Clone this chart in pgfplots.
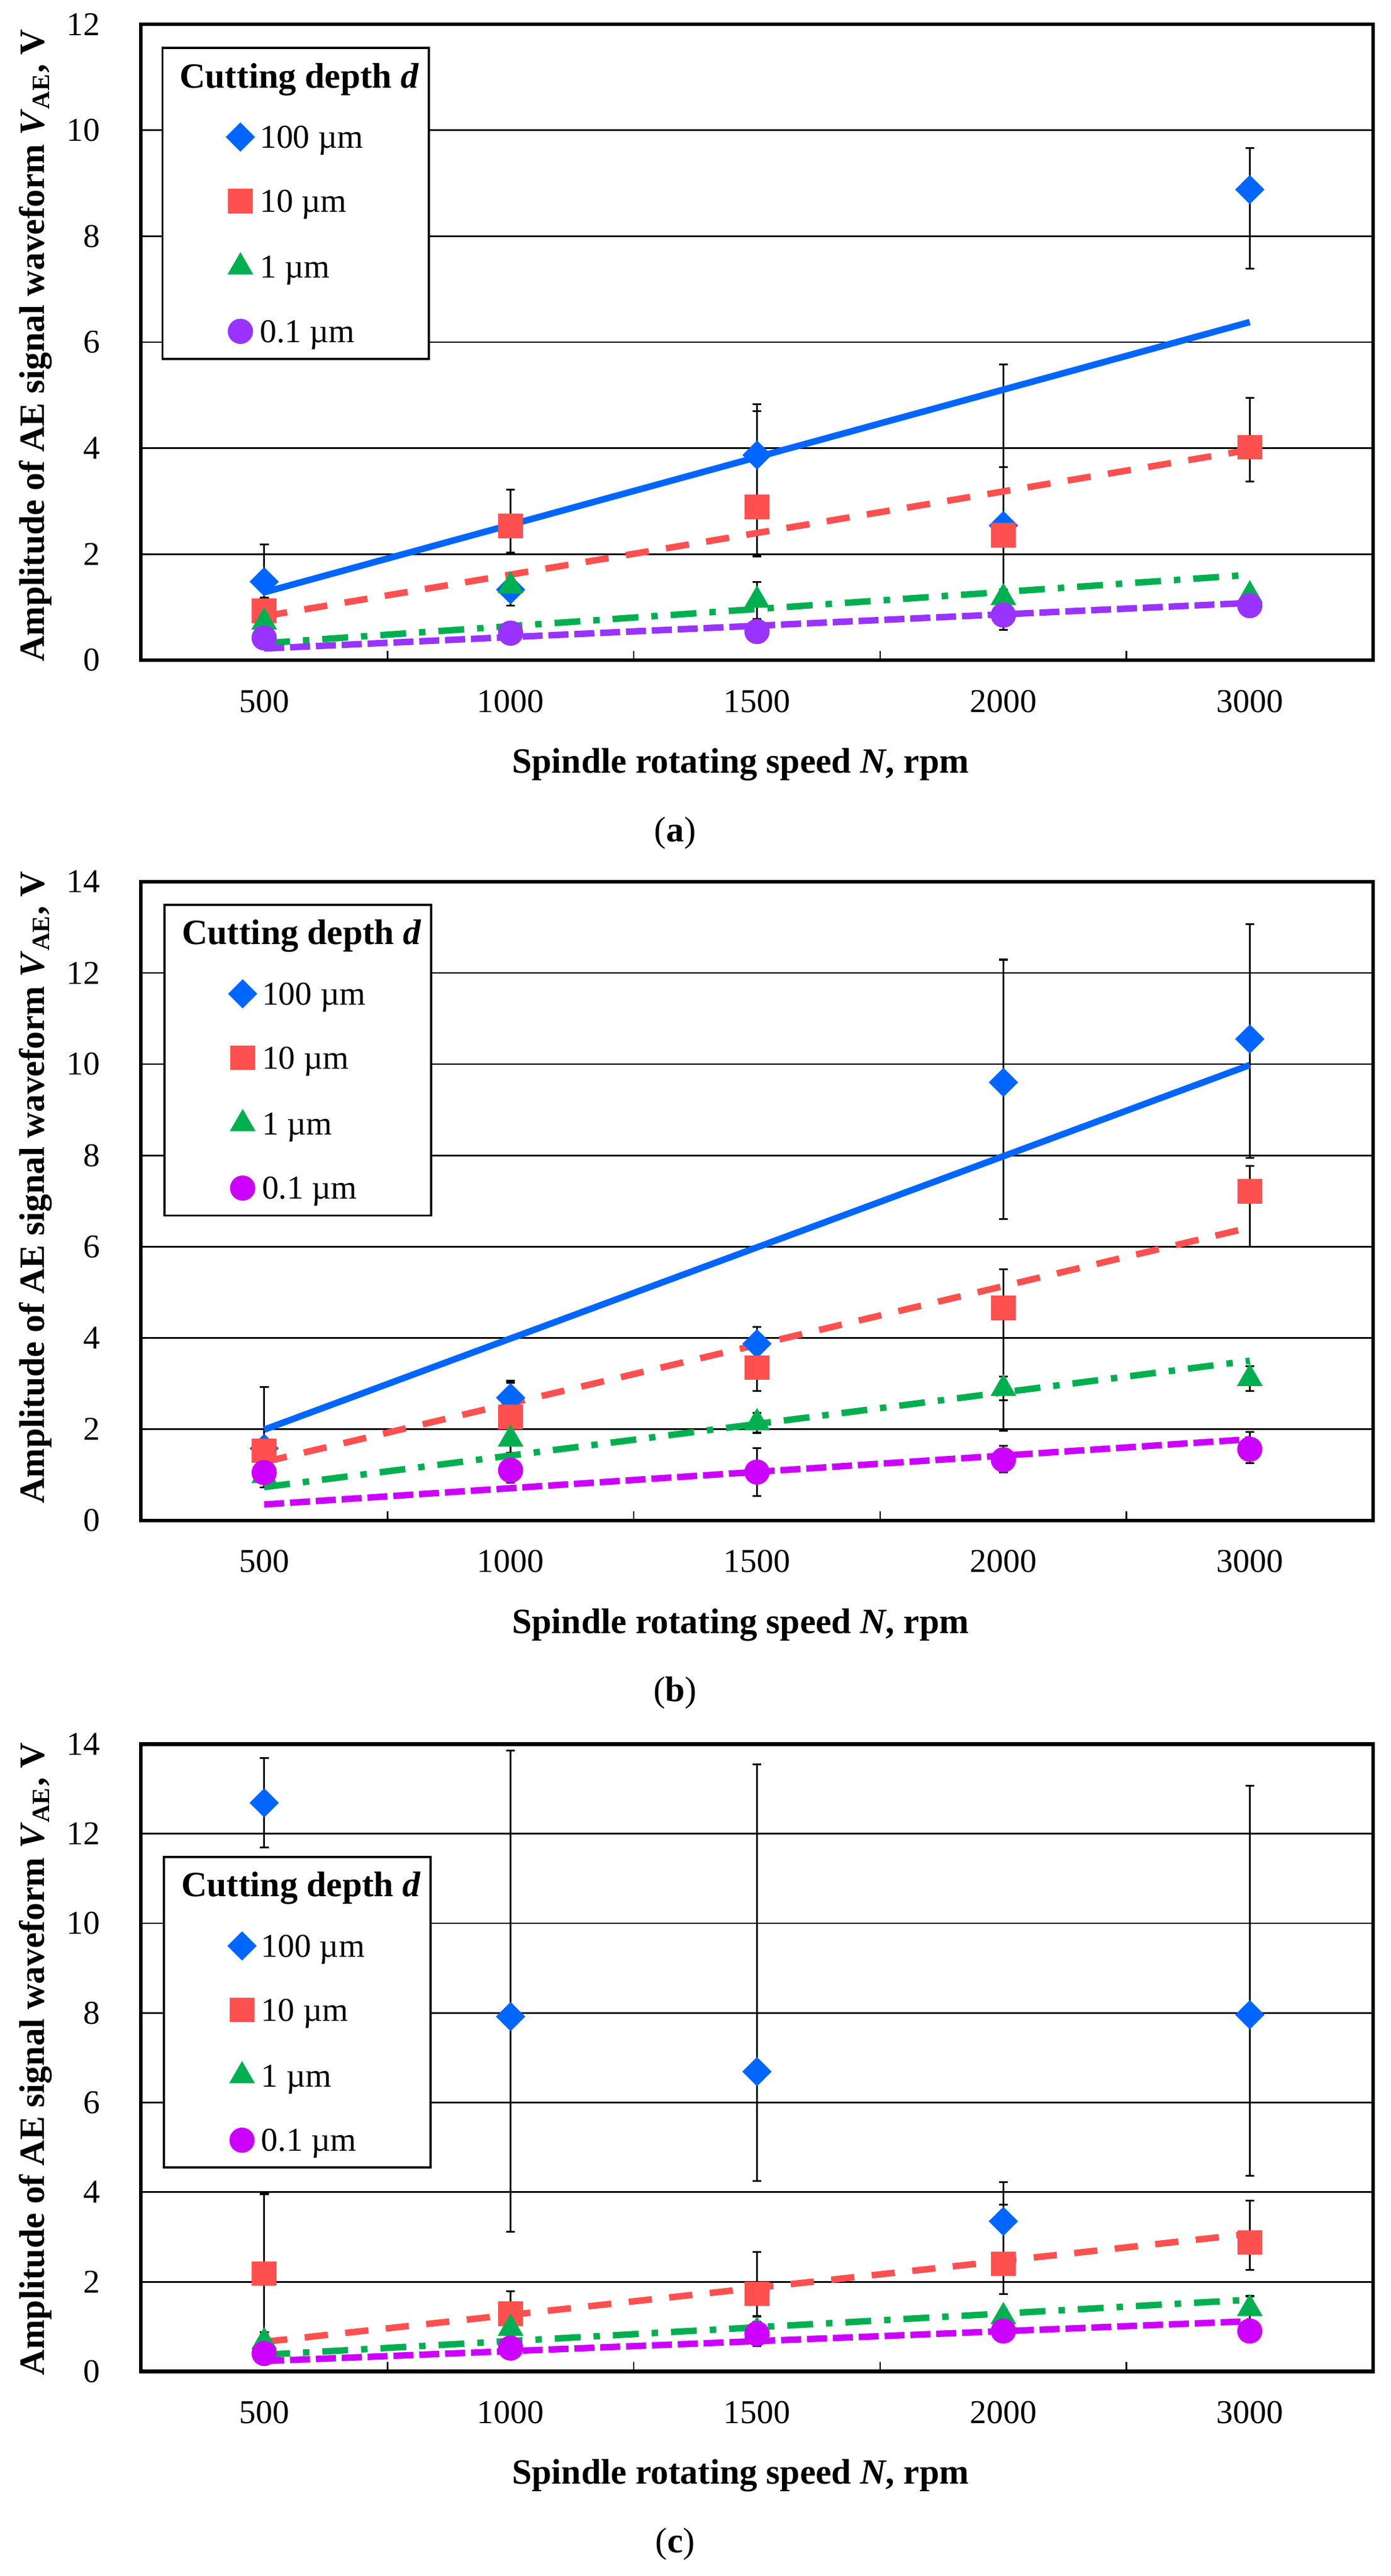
\documentclass[border=0pt]{standalone}
\usepackage{fontspec}
\setmainfont{Liberation Serif}
\usepackage{pgfplots}
\usepackage{pgfplotstable}
\pgfplotsset{compat=1.18}

\definecolor{cblue}{HTML}{0066FF}
\definecolor{cred}{HTML}{FF5050}
\definecolor{cgreen}{HTML}{00B050}
\definecolor{cviolet}{HTML}{9933FF}
\definecolor{cmagenta}{HTML}{CC00FF}

\newcommand{\tickfont}{\fontsize{10.3}{12}\selectfont}
\newcommand{\labfont}{\fontsize{11}{13}\selectfont\bfseries}

\pgfplotsset{
  aepanel/.style={
    scale only axis, width=381pt,
    xmin=0.5, xmax=5.5, ymin=0,
    xtick={1,2,3,4,5}, xticklabels={500,1000,1500,2000,3000},
    minor xtick={1.5,2.5,3.5,4.5},
    major x tick style={draw=none},
    minor x tick style={black, line width=0.5pt},
    minor tick length=2.9pt,
    tick align=inside,
    xtick pos=lower,
    ytick style={draw=none},
    ymajorgrids, major grid style={black, line width=0.5pt},
    axis line style={black, line width=1.1pt},
    tick label style={font=\tickfont},
    /pgf/number format/assume math mode=true,
    xticklabel style={anchor=center, yshift=-12.7pt, inner sep=0pt},
    yticklabel style={anchor=east, xshift=-12.5pt, inner sep=0pt},
    legend cell align=left,
    legend style={draw=black, line width=0.7pt, fill=white,
      inner xsep=3pt, inner ysep=2.6pt, row sep=10.3pt, column sep=1.5pt,
      nodes={inner sep=0pt, text height=7pt, text depth=2.5pt},
      cells={anchor=base west}, font=\tickfont, anchor=north west},
  },
  ebar/.style={forget plot, only marks, mark=none,
    error bars/.cd, y dir=both, y explicit,
    error bar style={black, line width=0.55pt},
    error mark options={black, rotate=90, mark size=1.4pt, line width=0.55pt}},
  mk/.style={only marks, line width=0.4pt,
    legend image code/.code={\draw[##1] plot coordinates {(0pt,3.4pt)};
      \path (-20.9pt,3.4pt) (4.3pt,3.4pt);}},
  mdia/.style={mk, color=cblue, mark=square*, mark size=3pt, mark options={rotate=45}},
  msq/.style={mk, color=cred, mark=square*, mark size=3.6pt},
  mtri/.style={mk, color=cgreen, mark=triangle*, mark size=4.2pt},
  mcirc/.style={mk, color=#1, mark=*, mark size=3.7pt},
  trend/.style={forget plot, no marks, line width=2pt},
  tblue/.style={trend, cblue},
  tred/.style={trend, cred, dash pattern=on 7.2pt off 5.4pt},
  tgreen/.style={trend, cgreen, dash pattern=on 8pt off 4pt on 2pt off 4pt},
  tviolet/.style={trend, #1, dash pattern=on 6.2pt off 1.8pt},
}

\newcommand{\legtitle}{\addlegendimage{empty legend}
  \addlegendentry[text height=9.7pt, text depth=0.7pt]{\hspace*{-24.8pt}\labfont Cutting depth \textit{d}}}

% panel (a)
\pgfplotstableread{
x y ep em
1 1.48 0.70 0.70
2 1.33 0.30 0.30
3 3.87 0.96 0.96
4 2.54 3.04 1.97
5 8.88 0.78 1.49
}\aBlue
\pgfplotstableread{
x y ep em
1 0.93 0.25 0.25
2 2.53 0.69 0.50
3 2.89 1.81 0.93
4 2.36 1.28 1.28
5 4.02 0.93 0.65
}\aRed
\pgfplotstableread{
x y ep em
1 0.72 0.10 0.10
2 1.40 0.25 0.25
3 1.13 0.35 0.35
4 1.18 0.15 0.15
5 1.23 0.12 0.12
}\aGreen
\pgfplotstableread{
x y ep em
1 0.42 0.05 0.05
2 0.51 0.05 0.05
3 0.54 0.05 0.05
4 0.85 0.05 0.28
5 1.03 0.05 0.05
}\aViolet

% panel (b)
\pgfplotstableread{
x y ep em
1 1.58 1.34 0.85
2 2.69 0.38 0.38
3 3.87 0.37 0.37
4 9.60 2.69 2.99
5 10.55 2.52 2.60
}\bBlue
\pgfplotstableread{
x y ep em
1 1.53 0.20 0.20
2 2.27 0.75 0.40
3 3.35 0.51 0.51
4 4.66 0.84 2.69
5 7.21 0.56 1.21
}\bRed
\pgfplotstableread{
x y ep em
1 0.98 0.15 0.15
2 1.78 0.30 0.30
3 2.14 0.22 0.22
4 2.89 0.26 0.26
5 3.11 0.27 0.27
}\bGreen
\pgfplotstableread{
x y ep em
1 1.05 0.10 0.32
2 1.10 0.10 0.27
3 1.06 0.52 0.52
4 1.33 0.30 0.27
5 1.56 0.38 0.30
}\bMag

% panel (c)
\pgfplotstableread{
x y ep em
1 12.69 1.00 1.00
2 7.92 5.94 4.80
3 6.69 6.86 2.44
4 3.35 0.87 0.87
5 7.96 5.11 3.59
}\cBlue
\pgfplotstableread{
x y ep em
1 2.18 1.78 1.30
2 1.29 0.50 0.50
3 1.73 0.93 0.50
4 2.40 1.32 0.67
5 2.88 0.93 0.61
}\cRed
\pgfplotstableread{
x y ep em
1 0.66 0.15 0.15
2 0.96 0.15 0.15
3 0.90 0.20 0.20
4 1.22 0.16 0.16
5 1.40 0.28 0.28
}\cGreen
\pgfplotstableread{
x y ep em
1 0.40 0.05 0.05
2 0.52 0.05 0.05
3 0.84 0.38 0.27
4 0.90 0.05 0.05
5 0.90 0.05 0.05
}\cMag

\begin{document}
\begin{tikzpicture}
\path[use as bounding box] (0,0) rectangle (430pt,-796.8pt);

% ---------- (a)
\begin{axis}[aepanel, at={(43.6pt,-204.2pt)}, anchor=south west,
  height=196.7pt, ymax=12, ytick={0,2,...,12},
  legend style={at={(0,1)}, xshift=6.3pt, yshift=-7pt}]
\addplot[ebar] table[x=x, y=y, y error plus=ep, y error minus=em]{\aBlue};
\addplot[ebar] table[x=x, y=y, y error plus=ep, y error minus=em]{\aRed};
\addplot[ebar] table[x=x, y=y, y error plus=ep, y error minus=em]{\aGreen};
\addplot[ebar] table[x=x, y=y, y error plus=ep, y error minus=em]{\aViolet};
\addplot[tblue] coordinates {(1,1.28) (5,6.38)};
\addplot[tred] coordinates {(1,0.83) (5,3.97)};
\addplot[tgreen] coordinates {(1,0.32) (5,1.61)};
\addplot[tviolet=cviolet] coordinates {(1,0.22) (5,1.08)};
\legtitle
\addplot[mdia] table[x=x, y=y]{\aBlue}; \addlegendentry{100 µm}
\addplot[msq] table[x=x, y=y]{\aRed}; \addlegendentry{10 µm}
\addplot[mtri] table[x=x, y=y]{\aGreen}; \addlegendentry{1 µm}
\addplot[mcirc=cviolet] table[x=x, y=y]{\aViolet}; \addlegendentry{0.1 µm}
\end{axis}
\node[rotate=90, inner sep=0pt, font=\labfont] at (11pt,-106.9pt)
  {Amplitude of AE signal waveform \textit{V}\textsubscript{AE}, V};
\node[inner sep=0pt, font=\labfont] at (229pt,-236.5pt) {Spindle rotating speed \textit{N}, rpm};
\node[inner sep=0pt, font=\fontsize{11}{13}\selectfont] at (208.8pt,-257.6pt) {(\textbf{a})};

% ---------- (b)
\begin{axis}[aepanel, at={(43.6pt,-470.3pt)}, anchor=south west,
  height=197.6pt, ymax=14, ytick={0,2,...,14},
  legend style={at={(0,1)}, xshift=7pt, yshift=-6.8pt}]
\addplot[ebar] table[x=x, y=y, y error plus=ep, y error minus=em]{\bBlue};
\addplot[ebar] table[x=x, y=y, y error plus=ep, y error minus=em]{\bRed};
\addplot[ebar] table[x=x, y=y, y error plus=ep, y error minus=em]{\bGreen};
\addplot[ebar] table[x=x, y=y, y error plus=ep, y error minus=em]{\bMag};
\addplot[tblue] coordinates {(1,1.99) (5,9.98)};
\addplot[tred] coordinates {(1,1.28) (5,6.42)};
\addplot[tgreen] coordinates {(1,0.73) (5,3.50)};
\addplot[tviolet=cmagenta] coordinates {(1,0.35) (5,1.78)};
\legtitle
\addplot[mdia] table[x=x, y=y]{\bBlue}; \addlegendentry{100 µm}
\addplot[msq] table[x=x, y=y]{\bRed}; \addlegendentry{10 µm}
\addplot[mtri] table[x=x, y=y]{\bGreen}; \addlegendentry{1 µm}
\addplot[mcirc=cmagenta] table[x=x, y=y]{\bMag}; \addlegendentry{0.1 µm}
\end{axis}
\node[rotate=90, inner sep=0pt, font=\labfont] at (11pt,-367.3pt)
  {Amplitude of AE signal waveform \textit{V}\textsubscript{AE}, V};
\node[inner sep=0pt, font=\labfont] at (229pt,-502.7pt) {Spindle rotating speed \textit{N}, rpm};
\node[inner sep=0pt, font=\fontsize{11}{13}\selectfont] at (208.8pt,-523.7pt) {(\textbf{b})};

% ---------- (c)
\begin{axis}[aepanel, at={(43.6pt,-733.5pt)}, anchor=south west,
  height=194pt, ymax=14, ytick={0,2,...,14},
  legend style={at={(0,1)}, xshift=6.8pt, yshift=-34.5pt}]
\addplot[ebar] table[x=x, y=y, y error plus=ep, y error minus=em]{\cBlue};
\addplot[ebar] table[x=x, y=y, y error plus=ep, y error minus=em]{\cRed};
\addplot[ebar] table[x=x, y=y, y error plus=ep, y error minus=em]{\cGreen};
\addplot[ebar] table[x=x, y=y, y error plus=ep, y error minus=em]{\cMag};
\addplot[tred] coordinates {(1,0.66) (5,3.07)};
\addplot[tgreen] coordinates {(1,0.37) (5,1.60)};
\addplot[tviolet=cmagenta] coordinates {(1,0.23) (5,1.12)};
\legtitle
\addplot[mdia] table[x=x, y=y]{\cBlue}; \addlegendentry{100 µm}
\addplot[msq] table[x=x, y=y]{\cRed}; \addlegendentry{10 µm}
\addplot[mtri] table[x=x, y=y]{\cGreen}; \addlegendentry{1 µm}
\addplot[mcirc=cmagenta] table[x=x, y=y]{\cMag}; \addlegendentry{0.1 µm}
\end{axis}
\node[rotate=90, inner sep=0pt, font=\labfont] at (11pt,-636.9pt)
  {Amplitude of AE signal waveform \textit{V}\textsubscript{AE}, V};
\node[inner sep=0pt, font=\labfont] at (229pt,-765.8pt) {Spindle rotating speed \textit{N}, rpm};
\node[inner sep=0pt, font=\fontsize{11}{13}\selectfont] at (208.8pt,-787pt) {(\textbf{c})};
\end{tikzpicture}
\end{document}
